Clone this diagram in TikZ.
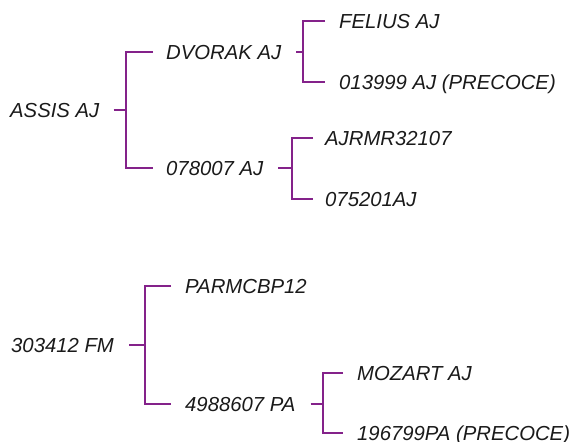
\documentclass[tikz,border=0pt]{standalone}
\usepackage{fontspec}
\setmainfont{Liberation Sans}
\usepackage{tikz}
\usetikzlibrary{positioning, calc}
\usepackage{xcolor}
\definecolor{brpurple}{HTML}{84228A}
\definecolor{brtext}{HTML}{1A1A1A}

\begin{document}
\begin{tikzpicture}[x=1pt, y=-1pt,
    cultivar/.style={anchor=west, inner sep=0pt, text=brtext,
                     font=\itshape\fontsize{20.3}{24}\selectfont,
                     text height=14.5pt, text depth=0pt},
    edg/.style={draw=brpurple, line width=2.6pt}]
    \useasboundingbox (0,0) rectangle (569,441);
    \node[cultivar] (assis)  at (10,110)  {ASSIS AJ};
    \node[cultivar] (dvorak) at (166,52)  {DVORAK AJ};
    \node[cultivar] (o78)    at (166,168) {078007 AJ};
    \node[cultivar] (felius) at (339,21)  {FELIUS AJ};
    \node[cultivar] (o13)    at (339,82)  {013999 AJ (PRECOCE)};
    \node[cultivar] (ajrmr)  at (325,138) {AJRMR32107};
    \node[cultivar] (o75)    at (325,199) {075201AJ};
    \node[cultivar] (fm)     at (11,345)  {303412 FM};
    \node[cultivar] (parm)   at (185,286) {PARMCBP12};
    \node[cultivar] (pa)     at (185,404) {4988607 PA};
    \node[cultivar] (mozart) at (357,373) {MOZART AJ};
    \node[cultivar] (o19)    at (357,433) {196799PA (PRECOCE)};
    \coordinate (sA) at (126,110);
    \coordinate (sD) at (303,52);
    \coordinate (sO) at (292,168);
    \coordinate (sF) at (145,345);
    \coordinate (sP) at (323,404);
    \draw[edg] ([xshift=14pt]assis.east) -- (sA);
    \draw[edg] ([xshift=-13pt]dvorak.west) -| (sA) |- ([xshift=-13pt]o78.west);
    \draw[edg] ([xshift=15pt]dvorak.east) -- (sD);
    \draw[edg] ([xshift=-14pt]felius.west) -| (sD) |- ([xshift=-14pt]o13.west);
    \draw[edg] ([xshift=15pt]o78.east) -- (sO);
    \draw[edg] ([xshift=-12pt]ajrmr.west) -| (sO) |- ([xshift=-12pt]o75.west);
    \draw[edg] ([xshift=15pt]fm.east) -- (sF);
    \draw[edg] ([xshift=-14pt]parm.west) -| (sF) |- ([xshift=-14pt]pa.west);
    \draw[edg] ([xshift=15pt]pa.east) -- (sP);
    \draw[edg] ([xshift=-14pt]mozart.west) -| (sP) |- ([xshift=-14pt]o19.west);
  \end{tikzpicture}
\end{document}
